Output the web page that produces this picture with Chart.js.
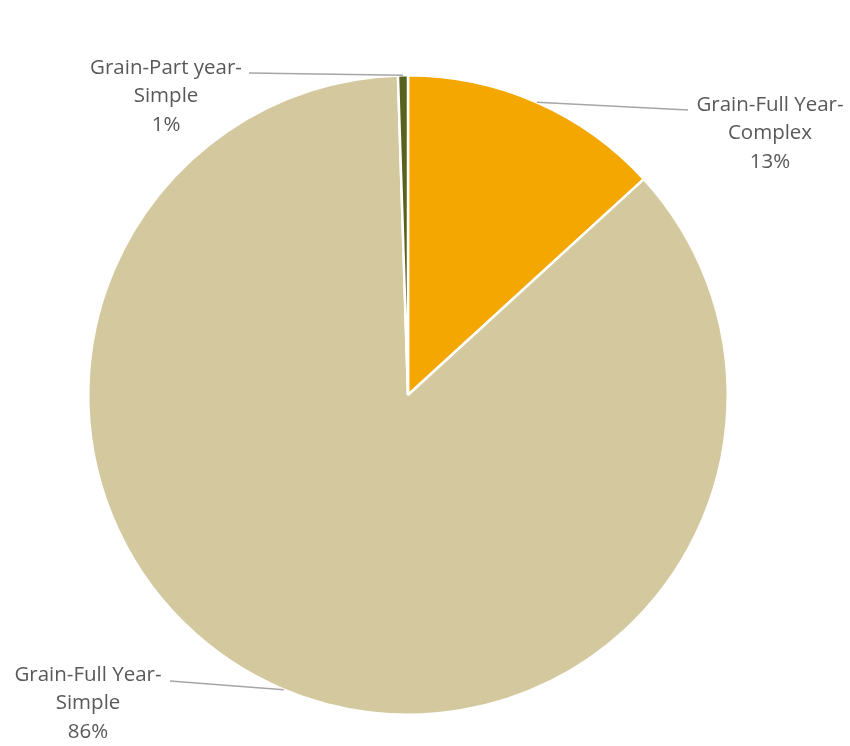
<!DOCTYPE html>
<html>
<head>
<meta charset="utf-8">
<script src="https://cdn.jsdelivr.net/npm/chart.js@4"></script>
<style>
  html, body { margin: 0; padding: 0; background: #ffffff; }
  #wrap { width: 850px; height: 746px; position: relative; }
</style>
</head>
<body>
<div id="wrap"><canvas id="pieChart"></canvas></div>
<script>
// --- data ---
const categories = ['Grain-Full Year-Complex', 'Grain-Full Year-Simple', 'Grain-Part year-Simple'];
const shares = [13.2, 86.3, 0.5];
const sliceColors = ['#F4A700', '#D4C99E', '#56621E'];
// label text lines (percent appended from data)
const labelLines = [['Grain-Full Year-', 'Complex'], ['Grain-Full Year-', 'Simple'], ['Grain-Part year-', 'Simple']];
// where each label block sits: leader end point, text center x, first text line center y
const labelPlace = [
    { lx: 688, ly: 110, tx: 770, ty: 105 },
    { lx: 170, ly: 681, tx: 88, ty: 675 },
    { lx: 249, ly: 73, tx: 166, ty: 68 }
];

const total = shares.reduce((a, b) => a + b, 0);

// draws leader lines and outside labels
const outsideLabels = {
    id: 'outsideLabels',
    afterDraw(chart) {
        const ctx = chart.ctx;
        const meta = chart.getDatasetMeta(0);
        ctx.save();
        meta.data.forEach(function (arc, i) {
            const p = arc.getProps(['x', 'y', 'startAngle', 'endAngle', 'outerRadius'], true);
            const mid = (p.startAngle + p.endAngle) / 2;
            const sx = p.x + Math.cos(mid) * p.outerRadius;
            const sy = p.y + Math.sin(mid) * p.outerRadius;
            const pl = labelPlace[i];
            ctx.strokeStyle = '#A6A6A6';
            ctx.lineWidth = 1.5;
            ctx.beginPath();
            ctx.moveTo(sx, sy);
            ctx.lineTo(pl.lx, pl.ly);
            ctx.stroke();

            const lines = labelLines[i].concat([Math.round(shares[i] / total * 100) + '%']);
            ctx.fillStyle = '#595959';
            ctx.font = '20.5px "Open Sans", sans-serif';
            ctx.textAlign = 'center';
            ctx.textBaseline = 'middle';
            lines.forEach(function (t, j) {
                ctx.fillText(t, pl.tx, pl.ty + j * 28.5);
            });
        });
        ctx.restore();
    }
};

const ctxPie = document.getElementById('pieChart').getContext('2d');
new Chart(ctxPie, {
    type: 'pie',
    data: {
        labels: categories,
        datasets: [{
            data: shares,
            backgroundColor: sliceColors,
            borderColor: '#ffffff',
            borderWidth: 2.5
        }]
    },
    options: {
        responsive: true,
        maintainAspectRatio: false,
        animation: false,
        layout: { padding: { left: 87, top: 74, right: 121, bottom: 30 } },
        plugins: {
            legend: { display: false },
            tooltip: { enabled: false }
        }
    },
    plugins: [outsideLabels]
});
</script>
</body>
</html>
